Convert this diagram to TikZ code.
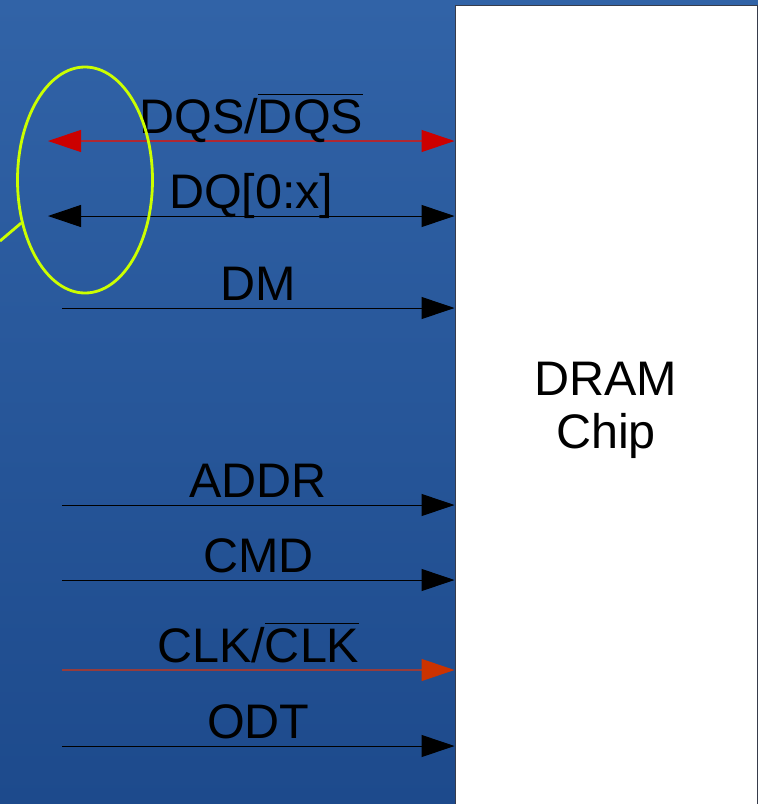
\documentclass[tikz,border=0pt]{standalone}
\usepackage{fontspec}
\setmainfont{Liberation Sans}
\usetikzlibrary{arrows.meta,shapes.geometric}

\definecolor{bgtop}{RGB}{49,99,167}
\definecolor{bgbottom}{RGB}{29,74,140}
\definecolor{chipedge}{RGB}{55,60,75}
\definecolor{tipred}{RGB}{204,0,0}
\definecolor{wirered}{RGB}{175,40,50}
\definecolor{tiporange}{RGB}{204,51,0}
\definecolor{wireclk}{RGB}{150,60,60}
\definecolor{ring}{RGB}{204,255,0}

% bar over an active-low signal name
\newcommand\sigbar[1]{\setbox0\hbox{#1}\rlap{\rule[\dimexpr\ht0+4pt\relax]{\wd0}{1.3pt}}\box0}

\begin{document}
\begin{tikzpicture}[x=1pt, y=-1pt,
    wiretip/.tip={Triangle[length=33pt,width=22pt]},
    redtip/.tip={Triangle[length=33pt,width=22pt,color=tipred]},
    clktip/.tip={Triangle[length=33pt,width=22pt,color=tiporange]},
    sig/.style={line width=1pt, -wiretip},
    siglabel/.style={midway, anchor=base, yshift=8pt, inner sep=0pt, font=\fontsize{48.5}{53}\selectfont}]

    \useasboundingbox (0,0) rectangle (758,804);
    \clip (0,0) rectangle (758,804);
    \shade[top color=bgtop, bottom color=bgbottom] (0,0) rectangle (758,804);

    \node[draw=chipedge, fill=white, line width=1pt, minimum width=302pt, minimum height=809pt,
          inner sep=0pt, align=center, font=\fontsize{48.5}{53}\selectfont] (chip) at (606,410) {DRAM\\Chip};

    % bidirectional data lines
    \coordinate (dqs-l) at (48,141);
    \coordinate (dq-l) at (48,216);
    \draw[line width=1.2pt, wirered, redtip-redtip] (dqs-l) -- node[siglabel, text=black] {DQS/\sigbar{DQS}} (chip.west |- dqs-l);
    \draw[line width=1pt, wiretip-wiretip] (dq-l) -- node[siglabel] {DQ[0:x]} (chip.west |- dq-l);

    % inputs to the chip
    \foreach \name/\y/\txt in {dm/308/DM, addr/505/ADDR, cmd/580/CMD, odt/746/ODT} {
        \coordinate (\name-l) at (62,\y);
        \draw[sig] (\name-l) -- node[siglabel] {\txt} (chip.west |- \name-l);
    }
    \coordinate (clk-l) at (62,670);
    \draw[line width=1.2pt, wireclk, -clktip] (clk-l) -- node[siglabel, text=black] {CLK/\sigbar{CLK}} (chip.west |- clk-l);

    \node[ellipse, draw=ring, line width=2.8pt, minimum width=135pt, minimum height=226pt, inner sep=0pt] (dqring) at (85,180) {};
    \coordinate (callout) at (0,241);
    \draw[ring, line width=2.8pt] (callout) -- (dqring.214);
\end{tikzpicture}
\end{document}
